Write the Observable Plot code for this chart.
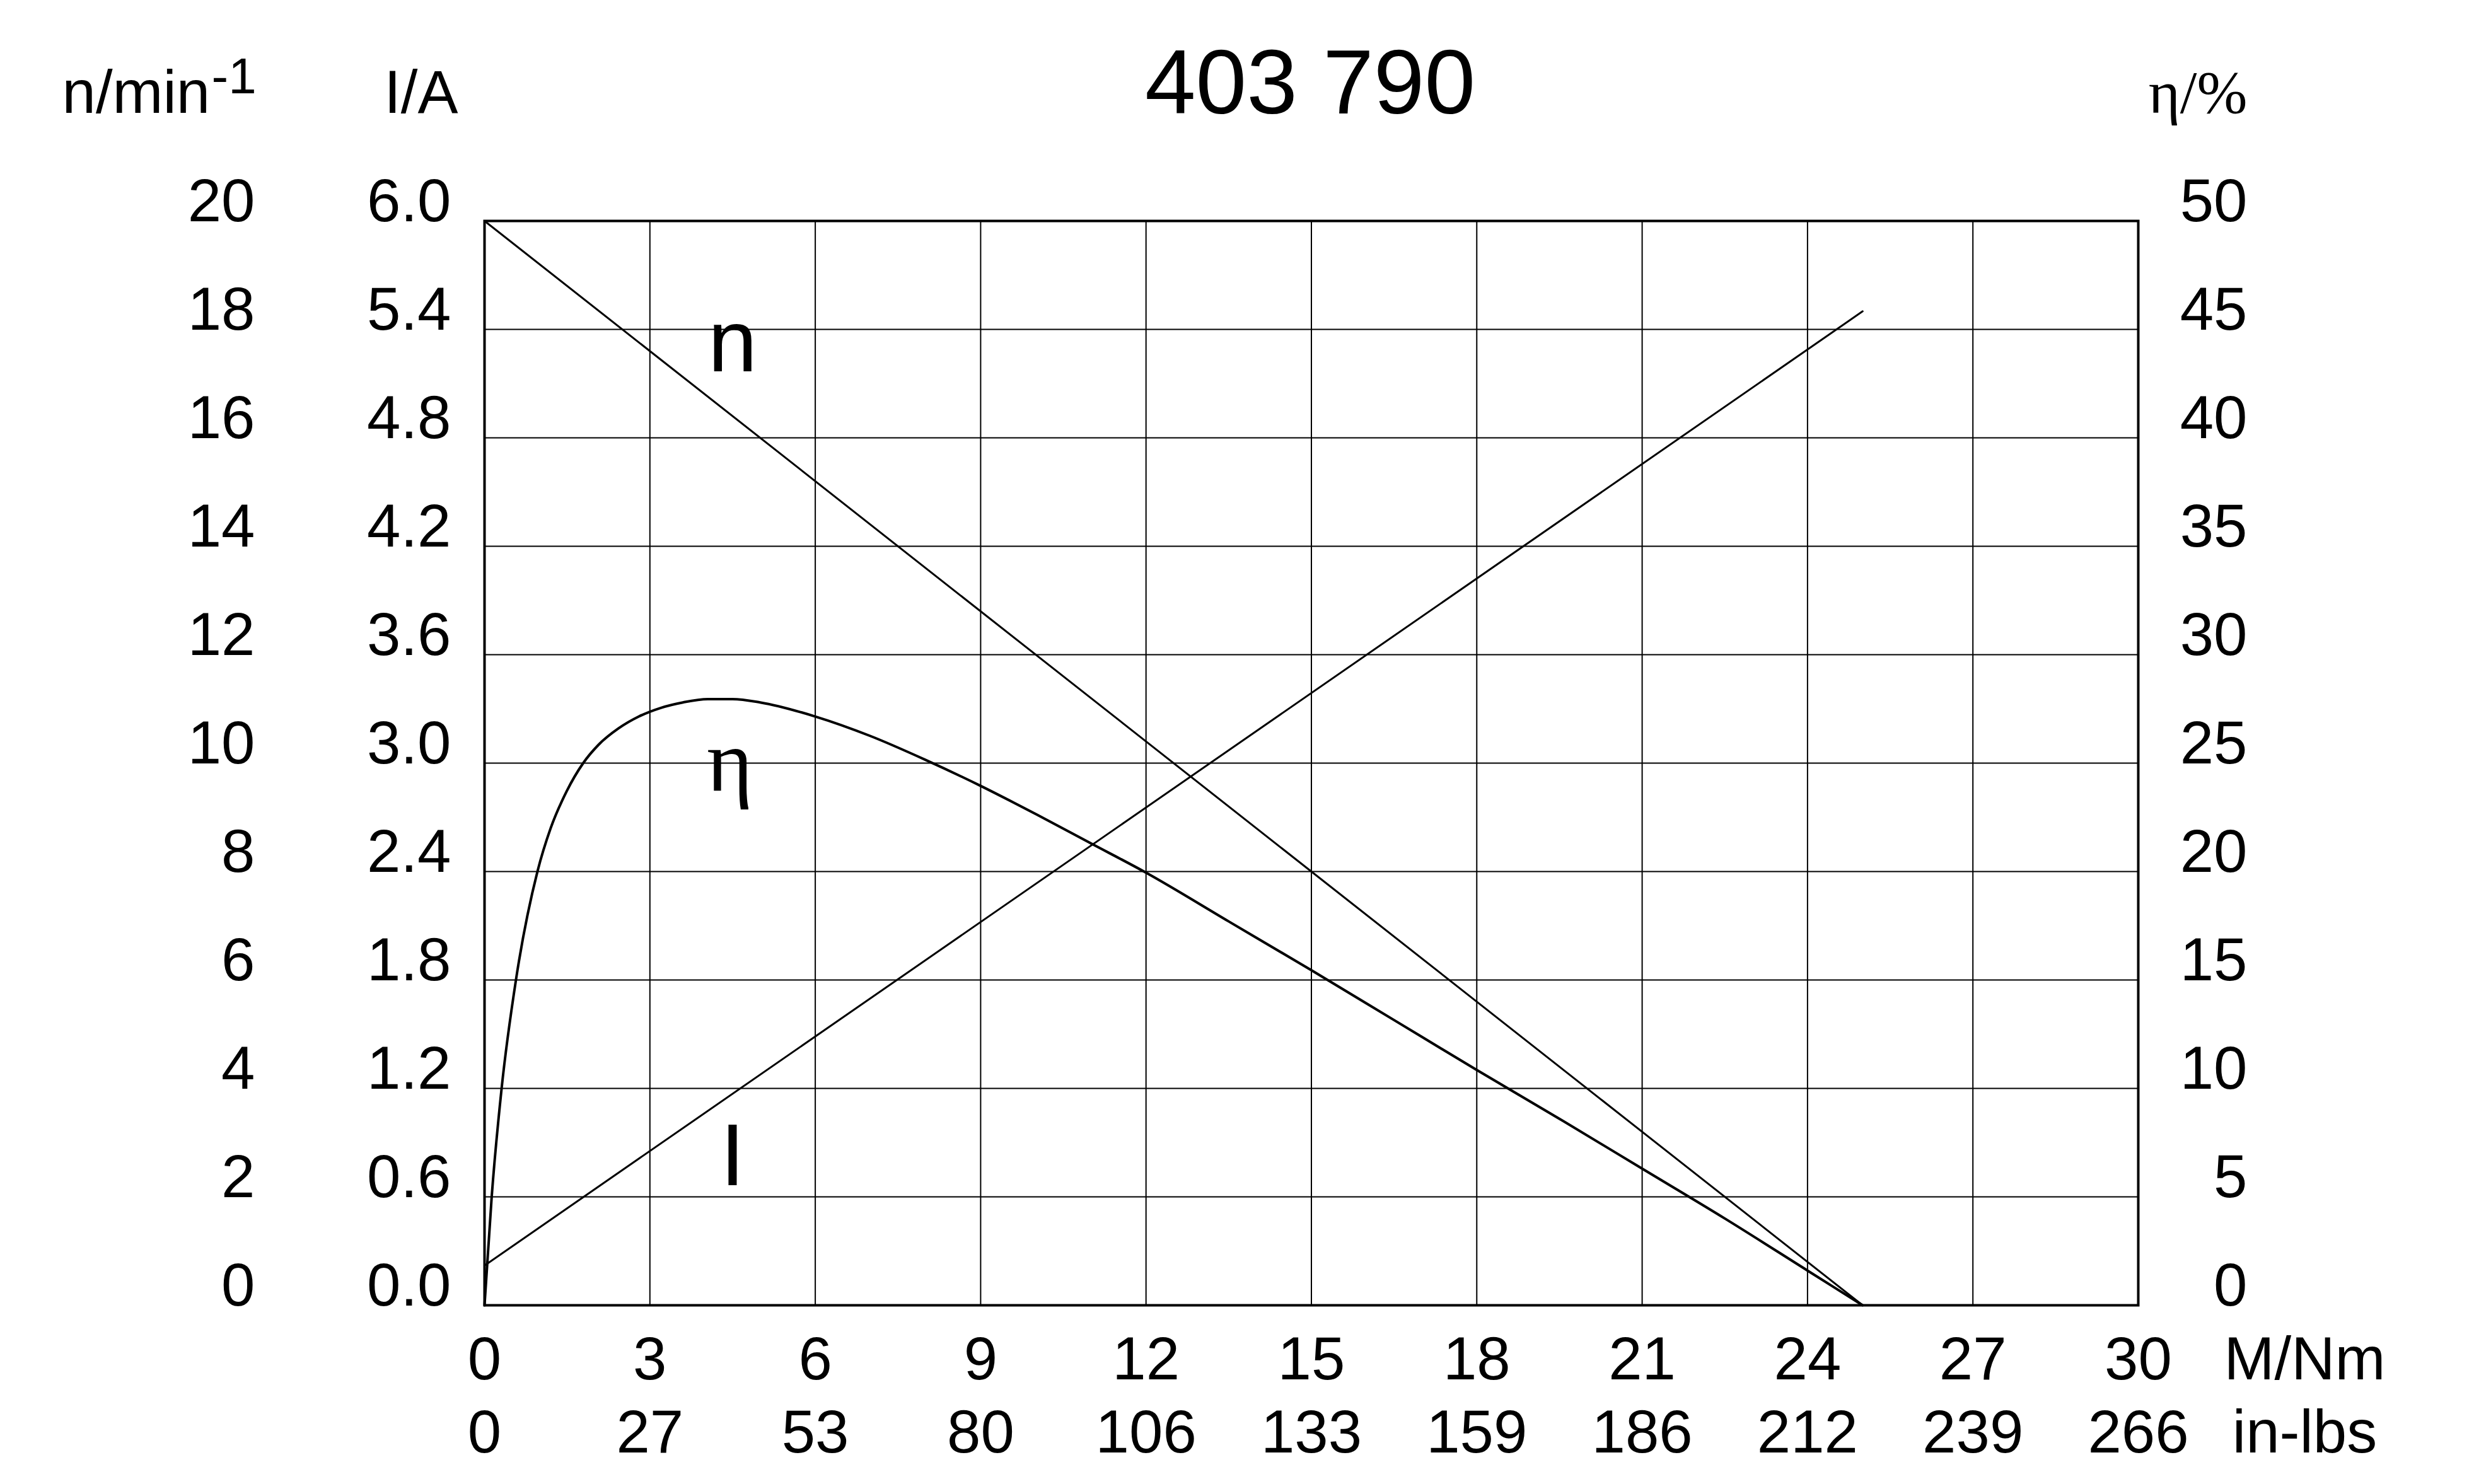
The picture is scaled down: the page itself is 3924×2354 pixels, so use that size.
<!DOCTYPE html>
<html>
<head>
<meta charset="utf-8">
<script src="https://cdn.jsdelivr.net/npm/d3@7"></script>
<script src="https://cdn.jsdelivr.net/npm/@observablehq/plot@0.6"></script>
<style>
  html, body { margin: 0; padding: 0; background: #fff; }
  svg { display: block; }
</style>
</head>
<body>
<div id="chart"></div>
<script>
// ---- Data ----
const titleText = "403 790";
const xTicks = [0, 3, 6, 9, 12, 15, 18, 21, 24, 27, 30];            // M / Nm
const inLbsLabels = ["0", "27", "53", "80", "106", "133", "159", "186", "212", "239", "266"];
const nTicks = [0, 2, 4, 6, 8, 10, 12, 14, 16, 18, 20];              // n / min^-1
const iTicks = [0, 0.6, 1.2, 1.8, 2.4, 3.0, 3.6, 4.2, 4.8, 5.4, 6.0]; // I / A
const etaTicks = [0, 5, 10, 15, 20, 25, 30, 35, 40, 45, 50];         // eta / %

// speed line (M, n)
const speedM = [0, 25];
const speedN = [20, 0];
// current line (M, I)
const currentM = [0, 25];
const currentI = [0.22, 5.5];
// efficiency curve (M, eta)
const etaM = [0, 0.13, 0.31, 0.57, 0.96, 1.2, 1.49, 1.79, 2.07, 2.43, 2.8, 3.2, 3.6, 4.05, 4.5, 5.0, 6.0, 7.0, 8.0, 9.0, 10.0, 11.0, 12.0, 13.5, 15.0, 16.5, 18.0, 19.5, 21.0, 22.5, 24.0, 25.0];
const etaV = [0, 5, 10, 15, 20, 22.0, 23.7, 25.0, 25.85, 26.6, 27.15, 27.55, 27.8, 27.95, 27.95, 27.8, 27.15, 26.25, 25.15, 23.95, 22.65, 21.3, 19.95, 17.7, 15.45, 13.15, 10.85, 8.6, 6.3, 4.0, 1.6, 0];

// curve labels
const curveLabels = ["n", "η", "I"];
const curveLabelM = [4.5, 4.45, 4.5];
const curveLabelKind = ["n", "eta", "I"];
const curveLabelVal = [17.23, 23.75, 0.663];

// ---- scale conversions onto the I/A scale ----
const nToI = v => v * 6 / 20;
const etaToI = v => v * 6 / 50;
const toI = (kind, v) => kind === "n" ? nToI(v) : kind === "eta" ? etaToI(v) : v;

const speed = speedM.map((m, i) => ({M: m, v: nToI(speedN[i])}));
const current = currentM.map((m, i) => ({M: m, v: currentI[i]}));
const eta = etaM.map((m, i) => ({M: m, v: etaToI(etaV[i])}));
const labels = curveLabels.map((t, i) => ({t, M: curveLabelM[i], v: toI(curveLabelKind[i], curveLabelVal[i]), serif: curveLabelKind[i] === "eta"}));

const SANS = "'Liberation Sans', Arial, Helvetica, sans-serif";
const SERIF = "'Liberation Serif', 'Times New Roman', serif";
const FS = 96;

const plot = Plot.plot({
  width: 3924,
  height: 2354,
  marginLeft: 768,
  marginRight: 533,
  marginTop: 350,
  marginBottom: 284,
  style: {background: "#fff", fontFamily: SANS, color: "#000"},
  x: {domain: [0, 30], axis: null},
  y: {domain: [0, 6], axis: null},
  marks: [
    // grid
    Plot.ruleX(xTicks.slice(1, -1), {x: d => d, stroke: "#000", strokeWidth: 2, strokeOpacity: 1}),
    Plot.ruleY(iTicks.slice(1, -1), {y: d => d, stroke: "#000", strokeWidth: 2, strokeOpacity: 1}),
    // curves
    Plot.line(speed, {x: "M", y: "v", stroke: "#000", strokeWidth: 3}),
    Plot.line(current, {x: "M", y: "v", stroke: "#000", strokeWidth: 3}),
    Plot.line(eta, {x: "M", y: "v", stroke: "#000", strokeWidth: 4, curve: "monotone-x"}),
    // frame
    Plot.frame({stroke: "#000", strokeWidth: 4}),
    // curve labels
    Plot.text(labels.filter(d => !d.serif), {x: "M", y: "v", text: "t", fontSize: 140, fontFamily: SANS, textAnchor: "middle", lineAnchor: "bottom", fill: "#000"}),
    Plot.text(labels.filter(d => d.serif), {x: "M", y: "v", text: "t", fontSize: 140, fontFamily: SERIF, textAnchor: "middle", lineAnchor: "bottom", fill: "#000"}),
    // left axis: n
    Plot.text(nTicks, {y: d => nToI(d), text: d => String(d), frameAnchor: "left", dx: -364, textAnchor: "end", lineAnchor: "bottom", fontSize: FS, fill: "#000"}),
    // left axis: I
    Plot.text(iTicks, {y: d => d, text: d => d.toFixed(1), frameAnchor: "left", dx: -53, textAnchor: "end", lineAnchor: "bottom", fontSize: FS, fill: "#000"}),
    // right axis: eta
    Plot.text(etaTicks, {y: d => etaToI(d), text: d => String(d), frameAnchor: "right", dx: 173, textAnchor: "end", lineAnchor: "bottom", fontSize: FS, fill: "#000"}),
    // bottom axis: M/Nm
    Plot.text(xTicks, {x: d => d, text: d => String(d), frameAnchor: "bottom", dy: 117, textAnchor: "middle", lineAnchor: "bottom", fontSize: FS, fill: "#000"}),
    // bottom axis: in-lbs
    Plot.text(xTicks, {x: d => d, text: (d, i) => inLbsLabels[i], frameAnchor: "bottom", dy: 233, textAnchor: "middle", lineAnchor: "bottom", fontSize: FS, fill: "#000"}),
    // unit labels
    Plot.text(["M/Nm"], {text: d => d, frameAnchor: "bottom-right", dx: 264, dy: 117, textAnchor: "middle", lineAnchor: "bottom", fontSize: FS, fill: "#000"}),
    Plot.text(["in-lbs"], {text: d => d, frameAnchor: "bottom-right", dx: 264, dy: 233, textAnchor: "middle", lineAnchor: "bottom", fontSize: FS, fill: "#000"}),
    Plot.text(["n/min"], {text: d => d, frameAnchor: "top-left", dx: -670, dy: -172, textAnchor: "start", lineAnchor: "bottom", fontSize: FS, fill: "#000"}),
    Plot.text(["-1"], {text: d => d, frameAnchor: "top-left", dx: -433, dy: -203, textAnchor: "start", lineAnchor: "bottom", fontSize: 80, fill: "#000"}),
    Plot.text(["I/A"], {text: d => d, frameAnchor: "top-left", dx: -42, dy: -172, textAnchor: "end", lineAnchor: "bottom", fontSize: FS, fill: "#000"}),
    Plot.text(["η/%"], {text: d => d, frameAnchor: "top-right", dx: 173, dy: -172, textAnchor: "end", lineAnchor: "bottom", fontSize: FS, fontFamily: SERIF, fill: "#000"}),
    // title
    Plot.text([titleText], {text: d => d, frameAnchor: "top", dx: -2, dy: -171, textAnchor: "middle", lineAnchor: "bottom", fontSize: 145, fill: "#000"})
  ]
});
document.getElementById("chart").appendChild(plot);
</script>
</body>
</html>
